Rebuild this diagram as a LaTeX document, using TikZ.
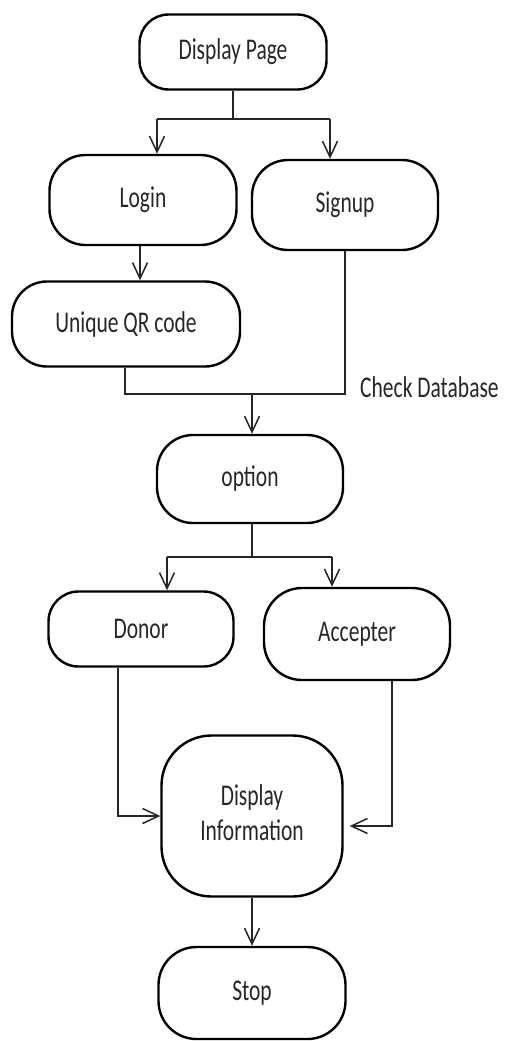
\documentclass[tikz,border=0pt]{standalone}
\usepackage{fontspec}
\setmainfont{Carlito}
\usetikzlibrary{arrows.meta}
\newcommand\tx[1]{\scalebox{1}[1.4]{#1}}
\tikzset{
  box/.style={draw=black, line width=2.4pt, rectangle, rounded corners=#1, inner sep=0pt,
    font=\fontsize{21.5}{25}\selectfont, text=black!85},
  box/.default=26pt,
  conn/.style={draw=black!85, line width=1.5pt},
  arr/.style={conn, -{Straight Barb[length=16pt,width=15pt,line width=1.5pt]}},
}
\begin{document}
\begin{tikzpicture}[x=1pt,y=-1pt]
\useasboundingbox (0,0) rectangle (509,1041);
% nodes
\node[box=29pt, minimum width=187pt, minimum height=75pt] (dp) at (233,52) {\tx{Display Page}};
\node[box=36pt, minimum width=187pt, minimum height=90pt] (login) at (143,200) {\tx{Login}};
\node[box=36pt, minimum width=186pt, minimum height=90pt] (signup) at (345,205) {\tx{Signup}};
\node[box=35pt, minimum width=228pt, minimum height=85pt] (qr) at (126,324) {\tx{Unique QR code}};
\node[box=36pt, minimum width=186pt, minimum height=88pt] (opt) at (250,479) {\tx{option}};
\node[box=30pt, minimum width=185pt, minimum height=75pt] (donor) at (141,629) {\tx{Donor}};
\node[box=38pt, minimum width=186pt, minimum height=92pt] (acc) at (357,634) {\tx{Accepter}};
\node[box=50pt, minimum width=181pt, minimum height=161pt] (info) at (252,816)
  {\tx{\begin{tabular}{@{}c@{}}Display\\Information\end{tabular}}};
\node[box=38pt, minimum width=187pt, minimum height=92pt] (stop) at (252,993) {\tx{Stop}};
\node[anchor=west, inner sep=0pt, font=\fontsize{21.5}{25}\selectfont, text=black!85] (chk) at (360,387) {\tx{Check Database}};
% junctions
\coordinate (j1) at (233,119);
\coordinate (j1L) at (157,119);
\coordinate (j1R) at (330,119);
\coordinate (j2R) at (345,394);
\coordinate (j2) at (252,394);
\coordinate (j3) at (252,557);
\coordinate (j3L) at (167,557);
\coordinate (j3R) at (332,557);
% connectors
\draw[conn] (dp.south) -- (j1);
\draw[conn] (j1L) -- (j1R);
\draw[arr] (j1L) -- (j1L |- login.north);
\draw[arr] (j1R) -- (j1R |- signup.north);
\draw[arr] ([xshift=-3pt]login.south) -- ([xshift=-3pt]login.south |- qr.north);
\draw[conn] ([xshift=-1pt]qr.south) |- (j2R) -- (signup.south);
\draw[arr] (j2) -- (j2 |- opt.north);
\draw[conn] ([xshift=2pt]opt.south) -- (j3);
\draw[conn] (j3L) -- (j3R);
\draw[arr] (j3L) -- (j3L |- donor.north);
\draw[arr] (j3R) -- (j3R |- acc.north);
\draw[arr] ([xshift=-23pt]donor.south) |- (info.west);
\draw[arr] ([xshift=35pt]acc.south) |- ([xshift=6pt,yshift=-10pt]info.east);
\draw[arr] (info.south) -- (stop.north);
\end{tikzpicture}
\end{document}
